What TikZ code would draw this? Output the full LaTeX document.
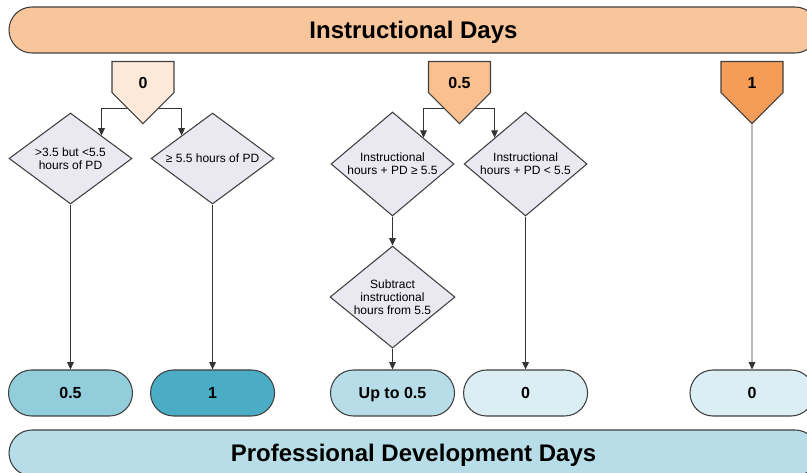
\documentclass[tikz,border=0pt]{standalone}
\usepackage{fontspec}
\setmainfont{Liberation Sans}
\usepackage{xcolor}
\usetikzlibrary{shapes.geometric, shapes.symbols, arrows.meta, positioning}

\definecolor{instrband}{HTML}{F9C59B}
\definecolor{instrzero}{HTML}{FDE9D9}
\definecolor{instrhalf}{HTML}{FAC090}
\definecolor{instrfull}{HTML}{F59D56}
\definecolor{checkfill}{HTML}{EAE8F0}
\definecolor{pdband}{HTML}{B7DEE8}
\definecolor{pdlight}{HTML}{DAEEF3}
\definecolor{pdmid}{HTML}{B7DEE8}
\definecolor{pdhalf}{HTML}{92CDDC}
\definecolor{pdfull}{HTML}{4BACC6}

\begin{document}
\begin{tikzpicture}[
    x=0.75pt, y=-0.75pt,
    node distance=13.5pt,
    band/.style={rectangle, draw=black!75, line width=0.8pt, rounded corners=17.25pt, minimum width=606.75pt, minimum height=34.5pt, text height=12.9pt, text depth=0pt, font=\fontsize{18}{20}\selectfont\bfseries},
    days/.style={signal, signal to=south, signal from=nowhere, draw=black!75, line width=0.8pt, minimum width=46.5pt, minimum height=10pt, inner ysep=1pt, text height=19pt, text depth=2.25pt, anchor=north, font=\fontsize{12}{14}\selectfont\bfseries},
    check/.style={diamond, draw=black!75, line width=0.8pt, fill=checkfill, inner sep=-2pt, align=center, font=\fontsize{9}{10}\selectfont},
    pdbox/.style={rectangle, draw=black!75, line width=0.8pt, rounded corners=17.25pt, minimum width=93pt, minimum height=34.5pt, text height=8.6pt, text depth=0pt, font=\fontsize{12}{14}\selectfont\bfseries},
    line/.style={-{Triangle[length=5.5pt, width=5pt]}, draw=black!80, line width=0.7pt}
]
    \useasboundingbox (0,0) rectangle (807,473);

    % Bands
    \node[band, fill=instrband] (Instr) at (413.5,30) {Instructional Days};
    \node[band, fill=pdband] (PD) at (413.5,453) {Professional Development Days};

    % Instructional day values
    \node[days, fill=instrzero] (Zero) at (143,61) {0};
    \node[days, fill=instrhalf] (Half) at (459.5,61) {0.5};
    \node[days, fill=instrfull] (Full) at (752,61) {1};

    % Checks
    \node[check, minimum width=92.25pt, minimum height=68.25pt, aspect=1.35] (Between) at (70.5,158.5) {>3.5 but <5.5\\hours of PD};
    \node[check, minimum width=92.25pt, minimum height=68.25pt, aspect=1.35, right=of Between] (Over) {≥ 5.5 hours of PD};
    \node[check, minimum width=92.25pt, minimum height=78pt, aspect=1.18] (SumOver) at (392.5,164) {Instructional\\hours + PD ≥ 5.5};
    \node[check, minimum width=92.25pt, minimum height=78pt, aspect=1.18, right=6.75pt of SumOver] (SumUnder) {Instructional\\hours + PD < 5.5};
    \node[check, minimum width=93.75pt, minimum height=76.5pt, aspect=1.22, below=21.75pt of SumOver] (Subtract) {Subtract\\instructional\\hours from 5.5};

    % PD day results
    \node[pdbox, fill=pdhalf] (PDHalf) at (70.5,393) {0.5};
    \node[pdbox, fill=pdfull, right=12.75pt of PDHalf] (PDFull) {1};
    \node[pdbox, fill=pdmid] (PDUpTo) at (392.5,393) {Up to 0.5};
    \node[pdbox, fill=pdlight, right=6pt of PDUpTo] (PDNone) {0};
    \node[pdbox, fill=pdlight] (PDZero) at (752,393) {0};

    % Arrows
    \draw[line] (Zero.243) -| (Between.north east);
    \draw[line] (Zero.297) -| (Over.north west);
    \draw[line] (Half.243) -| (SumOver.north east);
    \draw[line] (Half.297) -| (SumUnder.north west);
    \draw[line] (Between) -- (PDHalf);
    \draw[line] (Over) -- (PDFull);
    \draw[line] (SumOver) -- (Subtract);
    \draw[line] (Subtract) -- (PDUpTo);
    \draw[line] (SumUnder) -- (PDNone);
    \draw[line] (Full) -- (PDZero);
\end{tikzpicture}
\end{document}
